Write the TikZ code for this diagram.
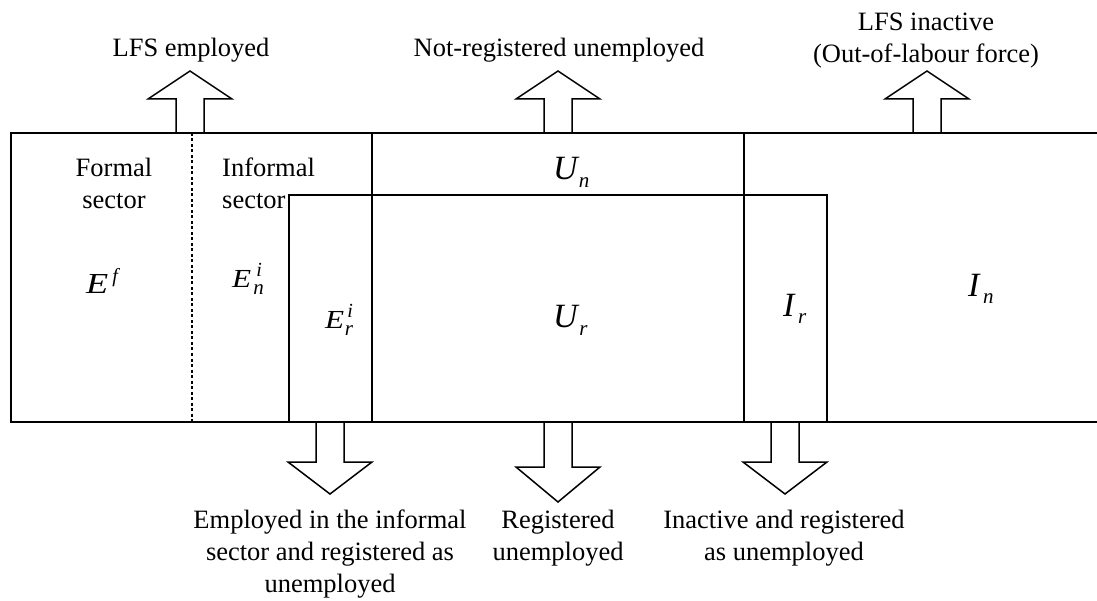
\documentclass[tikz,border=0pt]{standalone}
\usepackage{fontspec}
\setmainfont{Liberation Serif}

% italic symbol with optional super- and subscript, placed by hand
% #1 base, #2 base size, #3 sup, #4 sup kern, #5 sup raise, #6 sub, #7 sub kern, #8 sub drop
\newcommand\qvar[8]{%
  {\fontsize{#2}{#2}\selectfont\itshape #1}%
  \rlap{\kern#4\raisebox{#5}{\fontsize{20}{20}\selectfont\itshape #3}}%
  \kern#7\raisebox{-#8}{\fontsize{21}{21}\selectfont\itshape #6}}

\begin{document}
\begin{tikzpicture}[x=1pt,y=-1pt,
  frame/.style={line width=1.6pt},
  blockarrow/.style={line width=1.5pt, line join=miter},
  lbl/.style={inner sep=0pt, font=\fontsize{26.5}{32}\selectfont, align=center, anchor=base},
  sym/.style={inner sep=0pt, anchor=base west}]

\useasboundingbox (0,0) rectangle (1097,601);

% corner points of the population bands
\coordinate (tl) at (11,133);
\coordinate (bl) at (11,422);
\coordinate (tr) at (1097,133);
\coordinate (br) at (1097,422);

% outer band (open on the right)
\draw[frame] (tr) -- (tl) -- (bl) -- (br);
% formal / informal split
\draw[line width=1.2pt, dash pattern=on 3pt off 2.5pt] (192,133) -- (192,422);
% employed / unemployed and unemployed / inactive limits
\draw[frame] (372,133) -- (372,422);
\draw[frame] (744,133) -- (744,422);
% registered part
\draw[frame] (289,422) -- (289,195) -- (827,195) -- (827,422);

% block arrows
\tikzset{
  uparrow/.pic={\draw[blockarrow] (-14,0) -- (-14,-34) -- (-42,-34) -- (0,-62) -- (42,-34) -- (14,-34) -- (14,0);},
  downarrow/.pic={\draw[blockarrow] (-14,0) -- (-14,40) -- (-42,40) -- (0,72) -- (42,40) -- (14,40) -- (14,0);},
  longdownarrow/.pic={\draw[blockarrow] (-14,0) -- (-14,45) -- (-42,45) -- (0,80) -- (42,45) -- (14,45) -- (14,0);}
}
\pic at (190,133) {uparrow};
\pic at (558,133) {uparrow};
\pic at (927,133) {uparrow};
\pic at (330,422) {downarrow};
\pic at (558,422) {longdownarrow};
\pic at (785,422) {downarrow};

% outflow labels (base anchor = baseline of the last line)
\node[lbl] (lfsemp) at (191,57) {LFS employed};
\node[lbl] (notreg) at (559,57) {Not-registered unemployed};
\node[lbl] (lfsinact) at (926,63) {LFS inactive\\(Out-of-labour force)};
\node[lbl] (infreg) at (330,592) {Employed in the informal\\sector and registered as\\unemployed};
\node[lbl] (regunemp) at (558,560) {Registered\\unemployed};
\node[lbl] (inactreg) at (784,560) {Inactive and registered\\as unemployed};

% sector names
\node[lbl] (formal) at (114,209) {Formal\\sector};
\node[lbl, align=left, anchor=base west] (informal) at (222,209) {Informal\\sector};

% stock symbols
\node[sym] (ef) at (86,294) {\qvar{\scalebox{1.25}[1]{E}}{29}{f}{4pt}{11pt}{}{0pt}{0pt}};
\node[sym] (eni) at (232,288) {\qvar{\scalebox{1.2}[1]{E}}{26}{i}{5pt}{11pt}{n}{2pt}{7pt}};
\node[sym] (eri) at (325,329) {\qvar{\scalebox{1.2}[1]{E}}{26}{i}{3pt}{11pt}{r}{0.5pt}{7pt}};
\node[sym] (un) at (553,180) {\qvar{U}{34}{}{0pt}{0pt}{n}{1pt}{8pt}};
\node[sym] (ur) at (553,327) {\qvar{U}{34}{}{0pt}{0pt}{r}{1.5pt}{8pt}};
\node[sym] (ir) at (783,317) {\qvar{I}{34}{}{0pt}{0pt}{r}{3.5pt}{6pt}};
\node[sym] (in) at (968,297) {\qvar{I}{34}{}{0pt}{0pt}{n}{3.5pt}{7pt}};

\end{tikzpicture}
\end{document}
